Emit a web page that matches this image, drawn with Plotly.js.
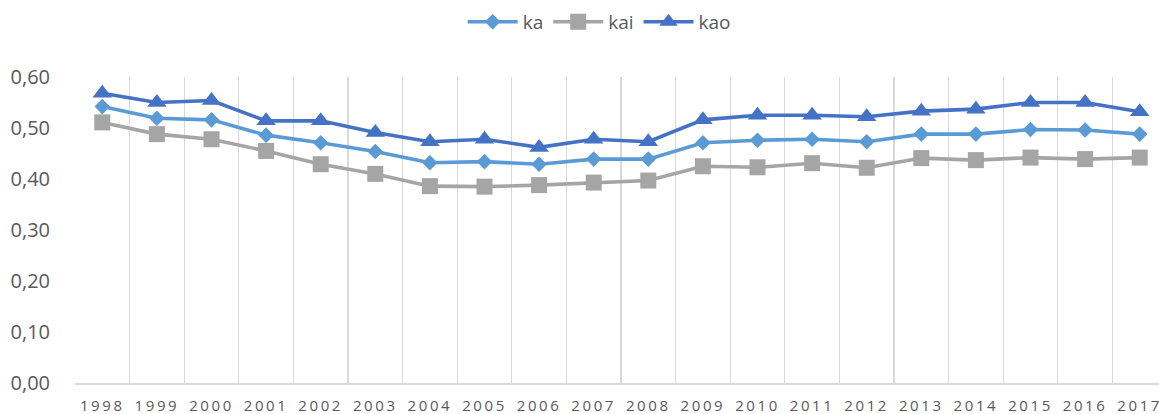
<!DOCTYPE html>
<html>
<head>
<meta charset="utf-8">
<script src="https://cdn.plot.ly/plotly-3.0.1.min.js"></script>
<style>
  html, body { margin: 0; padding: 0; overflow: hidden; background: #ffffff; }
  #chart { width: 1180px; height: 414px; }
  .xtick text { letter-spacing: 2.6px; }
</style>
</head>
<body>
<div id="chart"></div>
<script>
const years = ["1998","1999","2000","2001","2002","2003","2004","2005","2006","2007",
               "2008","2009","2010","2011","2012","2013","2014","2015","2016","2017"];
const ka  = [0.542,0.519,0.516,0.486,0.471,0.454,0.432,0.434,0.429,0.439,
             0.439,0.471,0.476,0.478,0.473,0.488,0.488,0.497,0.496,0.488];
const kai = [0.511,0.488,0.478,0.455,0.429,0.410,0.386,0.385,0.388,0.393,
             0.397,0.425,0.423,0.431,0.422,0.441,0.437,0.442,0.439,0.442];
const kao = [0.568,0.550,0.554,0.514,0.514,0.491,0.473,0.478,0.462,0.478,
             0.473,0.516,0.525,0.525,0.522,0.533,0.537,0.550,0.550,0.532];
const yTicks = [0, 0.1, 0.2, 0.3, 0.4, 0.5, 0.6];

const traces = [
  { name: "ka", x: years, y: ka, type: "scatter", mode: "lines+markers",
    line: { color: "#5B9BD5", width: 3.6 },
    marker: { symbol: "diamond", size: 12, color: "#5B9BD5" } },
  { name: "kai", x: years, y: kai, type: "scatter", mode: "lines+markers",
    line: { color: "#A5A5A5", width: 3.6 },
    marker: { symbol: "square", size: 16, color: "#A5A5A5" } },
  { name: "kao", x: years, y: kao, type: "scatter", mode: "lines+markers",
    line: { color: "#4472C4", width: 3.6 },
    marker: { symbol: "triangle-up", size: 17, color: "#4472C4" } }
];

const layout = {
  width: 1180, height: 414,
  margin: { l: 75, r: 13, t: 77, b: 31, autoexpand: false },
  paper_bgcolor: "#ffffff", plot_bgcolor: "#ffffff",
  separators: ",.",
  font: { family: "Open Sans, sans-serif", color: "#595959" },
  showlegend: true,
  legend: {
    orientation: "h", x: 0.48, xanchor: "center", y: 1.18, yanchor: "middle",
    font: { size: 19, color: "#595959" }, itemwidth: 50, traceorder: "normal"
  },
  xaxis: {
    type: "category", range: [-0.5, 19.5], tickson: "boundaries",
    showgrid: true, gridcolor: "#D9D9D9", gridwidth: 1.3,
    showline: true, linecolor: "#D9D9D9", linewidth: 1.5,
    ticks: "", tickfont: { size: 15, color: "#595959", family: "Open Sans, sans-serif" },
    ticklabelstandoff: 8, fixedrange: true
  },
  yaxis: {
    range: [0, 0.6], tickvals: yTicks, tickformat: ".2f",
    showgrid: false, zeroline: false, showline: false, ticks: "",
    tickfont: { size: 20, color: "#595959", family: "Open Sans, sans-serif" },
    ticklabelstandoff: 24, fixedrange: true
  }
};

Plotly.newPlot("chart", traces, layout, { displayModeBar: false, staticPlot: true });
</script>
</body>
</html>
